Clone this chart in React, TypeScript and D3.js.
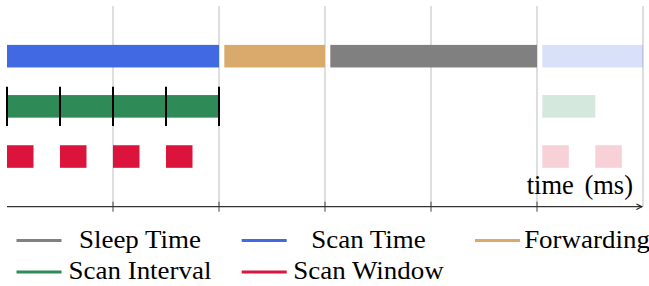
import React, { useEffect, useRef } from 'react';
import * as d3 from 'd3';

// bars: [start, end] in ms units, row 3 = top
const scanTime = [[0, 2]];
const forwarding = [[2.05, 3]];
const sleepTime = [[3.05, 5]];
const scanTimeNext = [[5.05, 6]];
const scanInterval = [[0, 2]];
const scanIntervalNext = [[5.05, 5.55]];
const intervalMarks = [0, 0.5, 1, 1.5, 2];
const scanWindow = [[0, 0.25], [0.5, 0.75], [1, 1.25], [1.5, 1.75]];
const scanWindowNext = [[5.05, 5.3], [5.55, 5.8]];
const xTicks = [0, 1, 2, 3, 4, 5, 6];

const legendItems = [
  { label: 'Sleep Time', color: '#808080' },
  { label: 'Scan Time', color: '#4169E1' },
  { label: 'Forwarding', color: '#D9AA6B' },
  { label: 'Scan Interval', color: '#2E8B57' },
  { label: 'Scan Window', color: '#DC143C' },
];

export default function App() {
  const chartRef = useRef(null);

  useEffect(() => {
    const svg = d3.select(chartRef.current);
    svg.selectAll('*').remove();

    const x = d3.scaleLinear().domain([0, 6]).range([7, 643]);
    const y = d3.scaleLinear().domain([0, 4]).range([206.7, 6]);
    const barH = y(0) - y(0.45);
    const font = '"Liberation Serif", "Times New Roman", serif';

    // vertical grid
    svg.append('g')
      .selectAll('line')
      .data(xTicks.slice(1))
      .join('line')
      .attr('x1', d => x(d)).attr('x2', d => x(d))
      .attr('y1', y(4)).attr('y2', y(0))
      .attr('stroke', '#c8c8c8')
      .attr('stroke-width', 1.2);

    const drawBars = (rows, row, color, opacity = 1) => {
      svg.append('g')
        .selectAll('rect')
        .data(rows)
        .join('rect')
        .attr('x', d => x(d[0]))
        .attr('width', d => x(d[1]) - x(d[0]))
        .attr('y', y(row) - barH / 2)
        .attr('height', barH)
        .attr('fill', color)
        .attr('fill-opacity', opacity);
    };

    drawBars(scanTime, 3, '#4169E1');
    drawBars(forwarding, 3, '#D9AA6B');
    drawBars(sleepTime, 3, '#808080');
    drawBars(scanTimeNext, 3, '#4169E1', 0.2);
    drawBars(scanInterval, 2, '#2E8B57');
    drawBars(scanIntervalNext, 2, '#2E8B57', 0.2);
    drawBars(scanWindow, 1, '#DC143C');
    drawBars(scanWindowNext, 1, '#DC143C', 0.2);

    // interval separators
    svg.append('g')
      .selectAll('line')
      .data(intervalMarks)
      .join('line')
      .attr('x1', d => x(d)).attr('x2', d => x(d))
      .attr('y1', y(2.39)).attr('y2', y(1.61))
      .attr('stroke', '#000')
      .attr('stroke-width', 2);

    // x axis with arrow
    svg.append('defs').append('marker')
      .attr('id', 'arrow')
      .attr('viewBox', '0 0 10 10')
      .attr('refX', 9).attr('refY', 5)
      .attr('markerWidth', 7).attr('markerHeight', 7)
      .attr('markerUnits', 'userSpaceOnUse')
      .attr('orient', 'auto')
      .append('path')
      .attr('d', 'M1,1 L9,5 L1,9')
      .attr('fill', 'none')
      .attr('stroke', '#222')
      .attr('stroke-width', 1.6);

    svg.append('g')
      .selectAll('line')
      .data(xTicks.slice(1, 6))
      .join('line')
      .attr('x1', d => x(d)).attr('x2', d => x(d))
      .attr('y1', y(0) - 5).attr('y2', y(0) + 5)
      .attr('stroke', '#444')
      .attr('stroke-width', 1);

    svg.append('line')
      .attr('x1', x(0)).attr('x2', x(6) - 1)
      .attr('y1', y(0)).attr('y2', y(0))
      .attr('stroke', '#333')
      .attr('stroke-width', 1.3)
      .attr('marker-end', 'url(#arrow)');

    svg.append('text')
      .attr('x', 633).attr('y', 193.5)
      .attr('text-anchor', 'end')
      .attr('font-family', font)
      .attr('font-size', 26.5)
      .attr('word-spacing', 4)
      .text('time (ms)');

    // legend
    const cols = [16.5, 241.7, 475];
    const centers = [140, 368.5, 587];
    const rowsY = [240.5, 272];
    const lg = svg.append('g');
    legendItems.forEach((item, i) => {
      const c = i % 3;
      const r = Math.floor(i / 3);
      lg.append('line')
        .attr('x1', cols[c]).attr('x2', cols[c] + 45)
        .attr('y1', rowsY[r]).attr('y2', rowsY[r])
        .attr('stroke', item.color)
        .attr('stroke-width', 3);
      lg.append('text')
        .attr('transform', `translate(${centers[c]},${rowsY[r] + 7}) scale(1.1,1)`)
        .attr('text-anchor', 'middle')
        .attr('font-family', font)
        .attr('font-size', 24.5)
        .text(item.label);
    });
  }, []);

  return (
    <svg
      ref={chartRef}
      width={649}
      height={286}
      style={{ position: 'absolute', left: 0, top: 0, background: '#fff' }}
    />
  );
}
